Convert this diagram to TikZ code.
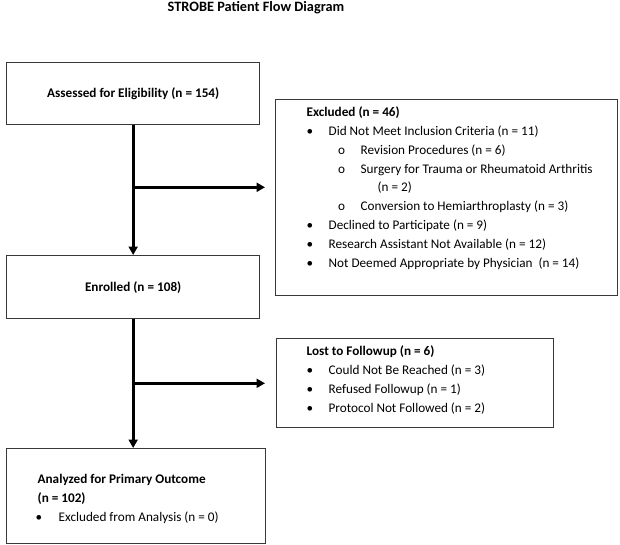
\documentclass[tikz,border=0pt]{standalone}
\usepackage{fontspec}
\setmainfont{Carlito}
\usetikzlibrary{arrows.meta,calc}
\newcommand{\bodysize}{\fontsize{13.2pt}{18.8pt}\selectfont}
\newcommand{\blt}[2]{\strut\hspace*{#1}\makebox[#2][l]{\textbullet}}
\newcommand{\sblt}[2]{\strut\hspace*{#1}\makebox[#2][l]{o}}
\newcommand{\boxtext}[4]{\begin{minipage}[t][#2][t]{#1}\bodysize\vspace*{#3}#4\end{minipage}}
\tikzset{
  box/.style={draw=black!78, line width=1.3pt, rectangle, anchor=north west},
  txtbox/.style={box, inner sep=0pt},
  mainbox/.style={box, font=\bodysize\bfseries, inner sep=0pt},
  arr/.style={line width=2.8pt, black, -{Triangle[length=8.5pt,width=9pt]}},
  plain/.style={line width=2.8pt, black},
}
\begin{document}
\begin{tikzpicture}[x=1pt,y=-1pt]
\useasboundingbox (0,0) rectangle (620,545);
\node[font=\fontsize{14.3pt}{17pt}\selectfont\bfseries] (title) at (256,7.5) {STROBE Patient Flow Diagram};

\node[mainbox, minimum width=253pt, minimum height=62pt] (assess) at (6,62) {Assessed for Eligibility (n = 154)};
\node[mainbox, minimum width=253pt, minimum height=63pt] (enrol) at (6,255) {Enrolled (n = 108)};

\node[txtbox] (excl) at (275,99) {\boxtext{342pt}{196pt}{3.84pt}{%
\strut\hspace*{31pt}\textbf{Excluded (n = 46)}\\
\blt{31pt}{22pt}Did Not Meet Inclusion Criteria (n = 11)\\
\sblt{62.5pt}{22.5pt}Revision Procedures (n = 6)\\
\sblt{62.5pt}{22.5pt}Surgery for Trauma or Rheumatoid Arthritis\\
\strut\hspace*{102pt}(n = 2)\\
\sblt{62.5pt}{22.5pt}Conversion to Hemiarthroplasty (n = 3)\\
\blt{31pt}{22pt}Declined to Participate (n = 9)\\
\blt{31pt}{22pt}Research Assistant Not Available (n = 12)\\
\blt{31pt}{22pt}Not Deemed Appropriate by Physician\ \ (n = 14)}};

\node[txtbox] (lost) at (276,338) {\boxtext{277pt}{89pt}{3.84pt}{%
\strut\hspace*{30pt}\textbf{Lost to Followup (n = 6)}\\
\blt{30pt}{22pt}Could Not Be Reached (n = 3)\\
\blt{30pt}{22pt}Refused Followup (n = 1)\\
\blt{30pt}{22pt}Protocol Not Followed (n = 2)}};

\node[txtbox] (anal) at (6,448) {\boxtext{259pt}{95pt}{21.84pt}{%
\strut\hspace*{31pt}\textbf{Analyzed for Primary Outcome}\\
\strut\hspace*{31pt}\textbf{(n = 102)}\\
\blt{29pt}{23pt}Excluded from Analysis (n = 0)}};

% connectors
\draw[arr] (assess.south) -- (enrol.north);
\path (assess.south) ++(0,62) coordinate (j1);
\coordinate (t1) at ([xshift=-10pt]excl.west |- j1);
\draw[arr] (j1) -- (t1);

\draw[arr] (enrol.south) -- (enrol.south |- anal.north);
\path (enrol.south) ++(0,64) coordinate (j2);
\coordinate (t2) at ([xshift=-11pt]lost.west |- j2);
\draw[arr] (j2) -- (t2);
\end{tikzpicture}
\end{document}
